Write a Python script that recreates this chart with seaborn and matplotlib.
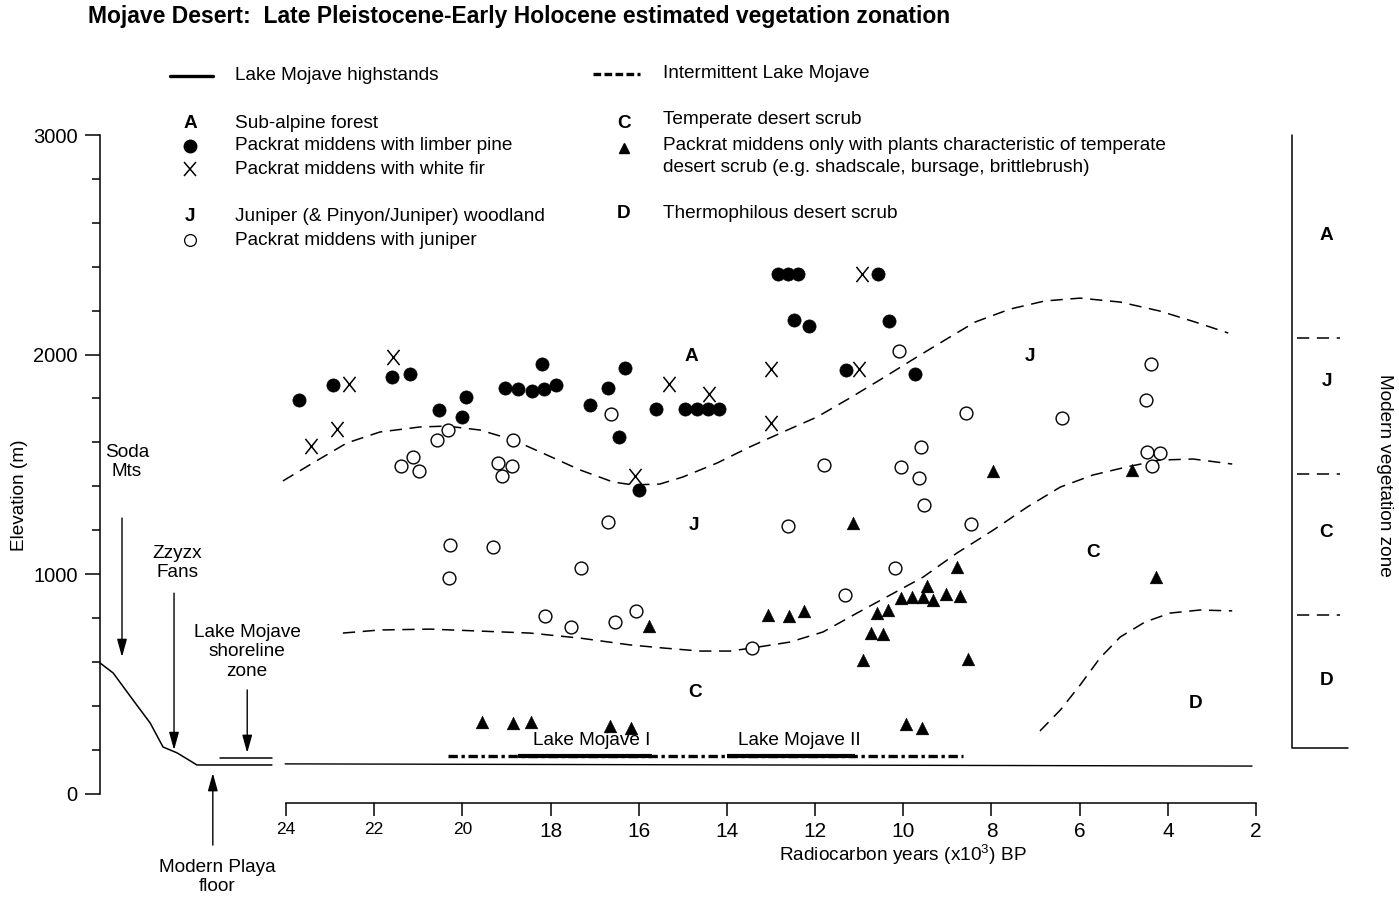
import numpy as np
import pandas as pd
import seaborn as sns
import matplotlib.pyplot as plt
from matplotlib.markers import MarkerStyle
from matplotlib.transforms import Affine2D

sns.set_style('ticks', {'axes.edgecolor': 'black', 'text.color': 'black',
                        'xtick.color': 'black', 'ytick.color': 'black'})
plt.rcParams['font.family'] = ['Liberation Sans', 'DejaVu Sans']
plt.rcParams['mathtext.fontset'] = 'custom'
plt.rcParams['mathtext.rm'] = 'Liberation Sans'

# packrat middens with limber pine (age ka BP, elevation m)
pine_age = [23.71, 22.93, 21.60, 21.19, 20.53, 19.92, 20.01, 19.03, 18.74, 18.42,
            18.15, 17.88, 18.19, 17.11, 16.70, 16.31, 16.45, 15.61, 15.99, 14.95,
            14.68, 14.43, 14.18, 12.84, 12.61, 12.39, 10.57, 12.48, 12.14, 10.32,
            11.30, 9.73]
pine_elev = [1793, 1861, 1898, 1911, 1747, 1806, 1715, 1847, 1843, 1834,
             1843, 1861, 1957, 1770, 1847, 1939, 1624, 1752, 1383, 1752,
             1752, 1752, 1752, 2367, 2367, 2367, 2367, 2157, 2130, 2153,
             1929, 1911]

# packrat middens with white fir
fir_age = [23.43, 22.84, 22.57, 21.57, 16.08, 15.31, 14.41, 13.00, 13.00, 10.94, 11.00]
fir_elev = [1583, 1661, 1866, 1989, 1447, 1866, 1820, 1934, 1688, 2367, 1934]

# packrat middens with juniper
jun_age = [21.12, 21.39, 20.98, 20.58, 20.33, 20.30, 20.28, 19.31, 18.85, 19.19,
           18.87, 19.10, 18.13, 17.54, 17.31, 16.70, 16.63, 16.54, 16.06, 13.43,
           12.61, 11.80, 11.32, 10.19, 10.10, 10.05, 9.64, 9.60, 9.53, 8.58,
           8.46, 6.40, 4.49, 4.38, 4.47, 4.18, 4.36]
jun_elev = [1533, 1492, 1469, 1611, 1656, 982, 1132, 1123, 1611, 1506,
            1492, 1447, 809, 759, 1027, 1237, 1729, 781, 831, 663,
            1219, 1497, 904, 1027, 2016, 1488, 1437, 1579, 1314, 1734,
            1228, 1711, 1793, 1957, 1556, 1551, 1492]

# packrat middens with desert scrub only
scrub_age = [19.55, 18.85, 18.44, 16.65, 16.18, 15.77, 13.07, 12.59, 12.25, 11.14,
             10.91, 10.73, 10.46, 10.60, 10.35, 10.05, 9.80, 9.55, 9.46, 9.33,
             9.03, 8.71, 8.78, 8.53, 9.94, 9.57, 7.96, 4.81, 4.27]
scrub_elev = [326, 321, 326, 308, 298, 763, 813, 809, 831, 1232,
              608, 731, 727, 822, 836, 891, 895, 895, 945, 882,
              909, 900, 1032, 613, 317, 298, 1469, 1474, 986]

# estimated zone boundaries
aj_age = [24.07, 23.39, 22.62, 21.87, 20.96, 20.35, 19.60, 18.85, 18.08, 17.33,
          16.58, 16.13, 15.52, 15.00, 14.22, 13.48, 12.73, 11.96, 11.21, 10.46,
          9.69, 8.94, 8.37, 7.58, 6.79, 5.99, 5.08, 4.18, 3.38, 2.63]
aj_elev = [1424, 1506, 1597, 1647, 1670, 1674, 1656, 1611, 1542, 1474,
           1419, 1406, 1410, 1442, 1506, 1579, 1647, 1715, 1802, 1893,
           1989, 2080, 2148, 2207, 2244, 2257, 2239, 2198, 2148, 2098]
jc_age = [22.71, 21.87, 20.73, 19.60, 18.47, 17.33, 16.20, 15.45, 14.61, 13.93,
          13.43, 12.57, 11.82, 11.05, 10.30, 9.55, 8.78, 7.96, 7.19, 6.44,
          5.70, 4.93, 4.18, 3.43, 2.54]
jc_elev = [731, 745, 749, 740, 731, 708, 677, 663, 649, 649,
           663, 690, 736, 822, 904, 986, 1096, 1200, 1305, 1396,
           1451, 1488, 1519, 1524, 1501]
cd_age = [6.90, 6.44, 5.99, 5.54, 5.08, 4.52, 3.95, 3.27, 2.54]
cd_elev = [285, 380, 494, 617, 713, 781, 822, 836, 832]

# lake levels
playa_age = [24.02, 2.09]
playa_elev = [135, 125]
intermittent_age = [20.33, 8.64]
highstand_age = [[18.74, 15.70], [14.00, 11.09]]
lake_elev = 171

# schematic basin profile
profile_age = [28.22, 27.92, 27.47, 27.08, 26.79, 26.47, 26.02, 24.32]
profile_elev = [595, 549, 426, 321, 212, 185, 130, 130]

# modern vegetation zone boundaries
modern_bounds = [2075, 1456, 813]
modern_labels = ['A', 'J', 'C', 'D']
modern_label_elev = [2540, 1879, 1187, 517]

FS = 13.7
xmark = MarkerStyle('x', transform=Affine2D().scale(0.8, 1.0))

fig = plt.figure(figsize=(13.99, 8.97), dpi=100)
ax = fig.add_axes([0, 0, 1, 1])
ax.set_xlim(30.487, -1.243)
ax.set_ylim(-471.5, 3615.2)

dash = dict(color='black', lw=1.1, dashes=(8, 5))
for a, e in [(aj_age, aj_elev), (jc_age, jc_elev), (cd_age, cd_elev)]:
    sns.lineplot(x=a, y=e, sort=False, estimator=None, ax=ax, **dash)

# lake lines
sns.lineplot(x=playa_age, y=playa_elev, sort=False, estimator=None, ax=ax,
             color='black', lw=1.0)
ax.plot(intermittent_age, [lake_elev] * 2, color='black', lw=2.4,
        linestyle=(0, (2.8, 1.1, 1.0, 1.1)), solid_capstyle='butt')
for seg in highstand_age:
    ax.plot(seg, [lake_elev] * 2, color='black', lw=3.0, solid_capstyle='butt')
ax.text(17.06, 240, 'Lake Mojave I', ha='center', va='center', fontsize=FS)
ax.text(12.36, 240, 'Lake Mojave II', ha='center', va='center', fontsize=FS)

# points
sns.scatterplot(x=jun_age, y=jun_elev, marker='o', s=85, color='white',
                edgecolor='black', linewidth=1.0, ax=ax, zorder=3)
sns.scatterplot(x=pine_age, y=pine_elev, marker='o', s=90, color='black',
                edgecolor='black', linewidth=0.5, ax=ax, zorder=3)
sns.scatterplot(x=scrub_age, y=scrub_elev, marker='^', s=85, color='black',
                edgecolor='black', linewidth=0.3, ax=ax, zorder=3)
sns.scatterplot(x=fir_age, y=fir_elev, marker=xmark, s=120, color='black',
                linewidth=1.1, ax=ax, zorder=3)

# zone letters inside the plot
for lab, a, e in [('A', 14.81, 1989), ('J', 7.13, 1989), ('J', 14.75, 1219),
                  ('C', 5.70, 1100), ('C', 14.72, 462), ('D', 3.38, 412)]:
    ax.text(a, e, lab, ha='center', va='center', fontsize=FS, fontweight='bold')

# schematic basin on the left
ax.plot(profile_age, profile_elev, color='black', lw=1.1)
ax.plot([25.50, 24.32], [162, 162], color='black', lw=1.1)
arrow = dict(arrowstyle='-|>,head_length=0.9,head_width=0.25', color='black',
             lw=1.0, shrinkA=0, shrinkB=0, mutation_scale=12)
for tip, tail in [((27.72, 622), (27.72, 1255)), ((26.54, 198), (26.54, 913)),
                  ((24.88, 185), (24.88, 472)), ((25.66, 93), (25.66, -235))]:
    ax.annotate('', xy=tip, xytext=tail, arrowprops=arrow)
ax.text(27.61, 1510, 'Soda\nMts', ha='center', va='center', fontsize=FS, linespacing=1.15)
ax.text(26.47, 1050, 'Zzyzx\nFans', ha='center', va='center', fontsize=FS, linespacing=1.15)
ax.text(24.88, 645, 'Lake Mojave\nshoreline\nzone', ha='center', va='center',
        fontsize=FS, linespacing=1.2)
ax.text(25.56, -380, 'Modern Playa\nfloor', ha='center', va='center',
        fontsize=FS, linespacing=1.15)

# modern vegetation column on the right
ax.plot([1.18, 1.18, -0.09], [3000, 207, 207], color='black', lw=1.1)
for b in modern_bounds:
    ax.plot([1.07, 0.10], [b, b], color='black', lw=1.1, dashes=(8, 5))
for lab, e in zip(modern_labels, modern_label_elev):
    ax.text(0.40, e, lab, ha='center', va='center', fontsize=FS, fontweight='bold')
fig.text(1385 / 1399, 1 - 475 / 897, 'Modern vegetation zone', rotation=-90,
         ha='center', va='center', fontsize=FS)

# axes
for s in ['top', 'right']:
    ax.spines[s].set_visible(False)
ax.spines['left'].set_position(('data', 28.22))
ax.spines['left'].set_bounds(0, 3000)
ax.spines['bottom'].set_position(('data', -43))
ax.spines['bottom'].set_bounds(2, 24)
ax.spines['left'].set_linewidth(1.1)
ax.spines['bottom'].set_linewidth(1.1)
ax.set_yticks([0, 1000, 2000, 3000])
ax.set_yticks(np.arange(0, 3001, 200), minor=True)
ax.set_yticklabels(['0', '1000', '2000', '3000'])
ax.set_xticks(np.arange(24, 1, -2))
ax.set_xticklabels([str(v) for v in range(24, 1, -2)])
ax.tick_params(axis='y', which='major', length=11, width=1.1, pad=5, labelsize=14.5)
ax.tick_params(axis='y', which='minor', length=6, width=1.1)
ax.tick_params(axis='x', which='major', length=9, width=1.1, pad=5, labelsize=15)
for t in ax.get_xticklabels()[:3]:
    t.set_fontsize(12.5)
ax.set_facecolor('white')

fig.text(20 / 1399, 1 - 495 / 897, 'Elevation (m)', rotation=90, ha='center',
         va='center', fontsize=FS)
fig.text(903 / 1399, 1 - 855 / 897, 'Radiocarbon years (x10$^{3}$) BP',
         ha='center', va='center', fontsize=FS)
fig.text(88 / 1399, 1 - 17 / 897,
         'Mojave Desert:  Late Pleistocene-Early Holocene estimated vegetation zonation',
         ha='left', va='center', fontsize=16.5, fontweight='bold')

# key
T = ax.transAxes
def fx(px):
    return px / 1399
def fy(py):
    return 1 - py / 897

ax.plot([fx(170), fx(213)], [fy(76), fy(76)], transform=T, color='black', lw=2.4)
ax.plot([fx(593), fx(640)], [fy(74), fy(74)], transform=T, color='black', lw=2.4,
        dashes=(2.3, 1.0))
ax.plot(fx(190), fy(146), 'o', transform=T, color='black', ms=9)
ax.plot(fx(190), fy(169), marker=xmark, transform=T, color='black', ms=10, mew=1.1)
ax.plot(fx(190), fy(240), 'o', transform=T, mfc='white', mec='black', ms=8.5, mew=0.9)
ax.plot(fx(624), fy(148), '^', transform=T, color='black', ms=7.5)
for lab, x, y in [('A', 190, 123), ('J', 190, 216), ('C', 624, 123), ('D', 624, 214)]:
    fig.text(fx(x), fy(y), lab, ha='center', va='center', fontsize=FS, fontweight='bold')
for txt, x, y in [('Lake Mojave highstands', 235, 76),
                  ('Intermittent Lake Mojave', 663, 73),
                  ('Sub-alpine forest', 235, 123),
                  ('Packrat middens with limber pine', 235, 146),
                  ('Packrat middens with white fir', 235, 169),
                  ('Juniper (& Pinyon/Juniper) woodland', 235, 216),
                  ('Packrat middens with juniper', 235, 240),
                  ('Temperate desert scrub', 663, 120),
                  ('Packrat middens only with plants characteristic of temperate', 663, 145),
                  ('desert scrub (e.g. shadscale, bursage, brittlebrush)', 663, 168),
                  ('Thermophilous desert scrub', 663, 213)]:
    fig.text(fx(x), fy(y), txt, ha='left', va='center', fontsize=FS)

fig.savefig('out.png', dpi=100)
